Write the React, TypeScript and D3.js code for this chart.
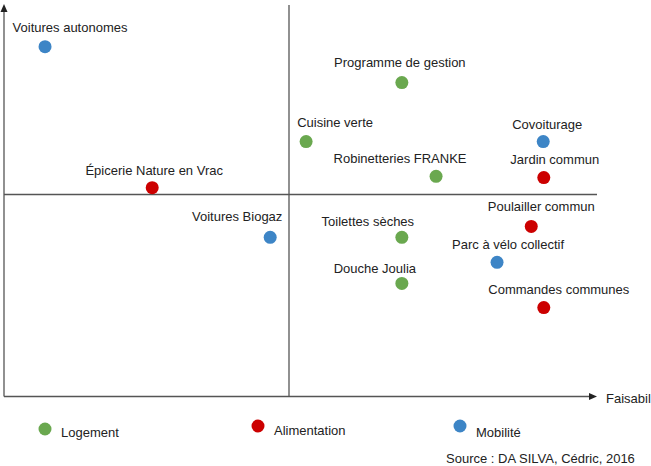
import React from "react";
import * as d3 from "d3";

const categories = ["Logement", "Alimentation", "Mobilité"];
const categoryColors = ["#6aa84f", "#cc0000", "#3d85c6"];

const names = [
  "Voitures autonomes",
  "Programme de gestion",
  "Cuisine verte",
  "Covoiturage",
  "Robinetteries FRANKE",
  "Jardin commun",
  "Épicerie Nature en Vrac",
  "Voitures Biogaz",
  "Toilettes sèches",
  "Poulailler commun",
  "Parc à vélo collectif",
  "Douche Joulia",
  "Commandes communes",
];
const pointCategory = [2, 0, 0, 2, 0, 1, 1, 2, 0, 1, 2, 0, 1];
const feasibility = [7.2, 69.8, 53, 94.6, 75.8, 94.7, 26, 46.7, 69.8, 92.5, 86.5, 69.8, 94.7];
const impact = [86.6, 77.7, 63.1, 63.1, 54.5, 54.2, 51.7, 39.4, 39.4, 42.1, 33.2, 28, 22];

const xAxisLabel = "Faisabil";
const sourceText = "Source : DA SILVA, Cédric, 2016";

// label offsets (styling): [dx, dy]
const labelOffsets: [number, number][] = [
  [25, -15], [-2, -16], [29, -15], [4, -13], [-36, -13], [11, -14], [2, -13],
  [-33, -16], [-34, -11], [10, -15], [11, -13], [-27, -10], [15, -14],
];

export default function App() {
  const W = 651, H = 466;
  const x = d3.scaleLinear().domain([0, 100]).range([4, 574]);
  const y = d3.scaleLinear().domain([0, 100]).range([396.5, -7.5]);
  const axisColor = "#555";
  const font = "'Liberation Sans', Arial, sans-serif";
  const xEnd = 597;
  const yTop = 4;
  const legendPos = [
    { cx: 45, cy: 429, tx: 61, ty: 437 },
    { cx: 258, cy: 426, tx: 274, ty: 435 },
    { cx: 460, cy: 426, tx: 476, ty: 437 },
  ];
  return (
    <svg width={W} height={H} style={{ position: "absolute", left: 0, top: 0, background: "#fff" }} fontFamily={font}>
      <rect width={W} height={H} fill="#fff" />
      {/* axes */}
      <line x1={x(0)} x2={x(0)} y1={yTop + 6} y2={y(0)} stroke={axisColor} strokeWidth={1.3} />
      <path d={`M${x(0)},${yTop} L${x(0) - 3.5},${yTop + 8} L${x(0) + 3.5},${yTop + 8} Z`} fill="#222" />
      <line x1={x(0)} x2={xEnd - 6} y1={y(0)} y2={y(0)} stroke={axisColor} strokeWidth={1.3} />
      <path d={`M${xEnd},${y(0)} L${xEnd - 8},${y(0) - 3.5} L${xEnd - 8},${y(0) + 3.5} Z`} fill="#222" />
      {/* quadrant lines */}
      <line x1={x(50)} x2={x(50)} y1={5} y2={y(0)} stroke={axisColor} strokeWidth={1.3} />
      <line x1={x(0)} x2={xEnd} y1={y(50)} y2={y(50)} stroke={axisColor} strokeWidth={1.3} />
      <text x={606} y={403} fontSize={13} fill="#222">{xAxisLabel}</text>
      {names.map((n, i) => (
        <g key={n}>
          <circle cx={x(feasibility[i])} cy={y(impact[i])} r={6.5} fill={categoryColors[pointCategory[i]]} />
          <text
            x={x(feasibility[i]) + labelOffsets[i][0]}
            y={y(impact[i]) + labelOffsets[i][1]}
            textAnchor="middle"
            fontSize={13}
            fill="#222"
          >
            {n}
          </text>
        </g>
      ))}
      {categories.map((c, i) => (
        <g key={c}>
          <circle cx={legendPos[i].cx} cy={legendPos[i].cy} r={6.5} fill={categoryColors[i]} />
          <text x={legendPos[i].tx} y={legendPos[i].ty} fontSize={13} fill="#222">{c}</text>
        </g>
      ))}
      <text x={446} y={463} fontSize={13} fill="#222">{sourceText}</text>
    </svg>
  );
}
